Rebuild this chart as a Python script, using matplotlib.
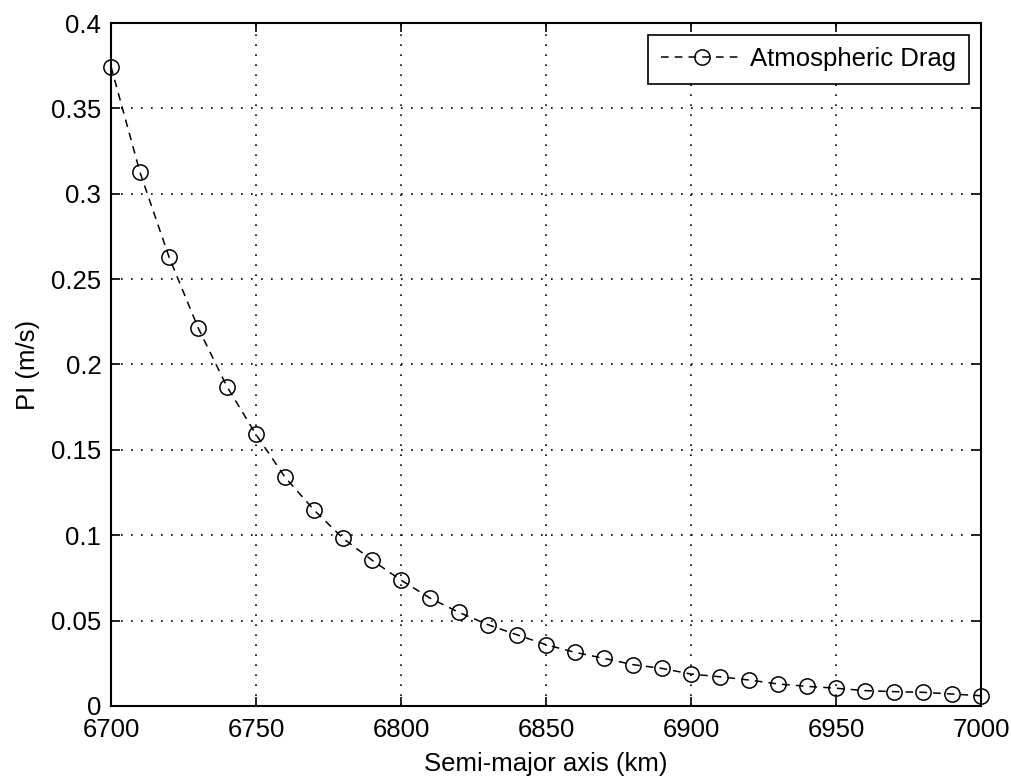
import matplotlib
matplotlib.use("Agg")
import matplotlib.pyplot as plt
import numpy as np
from matplotlib.ticker import FormatStrFormatter

plt.rcParams['font.family'] = ['Liberation Sans', 'DejaVu Sans']

# semi-major axis (km) and drag PI (m/s)
sma = [6700, 6710, 6720, 6730, 6740, 6750, 6760, 6770, 6780, 6790,
       6800, 6810, 6820, 6830, 6840, 6850, 6860, 6870, 6880, 6890,
       6900, 6910, 6920, 6930, 6940, 6950, 6960, 6970, 6980, 6990, 7000]
pi_drag = [0.3745, 0.3125, 0.263, 0.2216, 0.187, 0.159, 0.134, 0.1148, 0.0982, 0.0854,
           0.0737, 0.0632, 0.0548, 0.0476, 0.0417, 0.0359, 0.0314, 0.0279, 0.0242, 0.0220,
           0.0187, 0.0171, 0.0152, 0.0129, 0.0115, 0.0104, 0.0090, 0.0084, 0.0080, 0.0070, 0.0060]

fs = 18.5

fig = plt.figure(figsize=(10.11, 7.8), dpi=100)
ax = fig.add_axes([0.1098, 0.0949, 0.8605, 0.8756])

ax.plot(sma, pi_drag, color='black', linestyle=(0, (5, 4)), linewidth=1.1,
        marker='o', markersize=11, markerfacecolor='none', markeredgecolor='black',
        markeredgewidth=1.1, clip_on=False, label='Atmospheric Drag')

ax.set_xlim(6700, 7000)
ax.set_ylim(0, 0.4)
ax.set_xticks(np.arange(6700, 7001, 50))
ax.set_yticks(np.arange(0, 0.401, 0.05))
ax.yaxis.set_major_formatter(FormatStrFormatter('%g'))

ax.grid(True, color='black', linestyle=(0, (1, 5)), linewidth=1.2)
ax.tick_params(direction='in', length=6.5, width=1.2, labelsize=fs,
               top=True, right=True)
ax.tick_params(axis='x', pad=9)
ax.tick_params(axis='y', pad=7)
for s in ax.spines.values():
    s.set_linewidth(1.5)

ax.set_xlabel('Semi-major axis (km)', fontsize=fs, labelpad=7)
ax.set_ylabel('PI (m/s)', fontsize=fs, labelpad=8)

leg = ax.legend(loc='upper right', fontsize=fs, numpoints=1, handlelength=3.2,
                handletextpad=0.3, borderpad=0.5, borderaxespad=0.45,
                fancybox=False, framealpha=1)
leg.get_frame().set_edgecolor('black')
leg.get_frame().set_linewidth(1.2)

fig.savefig('out.png', dpi=100)
